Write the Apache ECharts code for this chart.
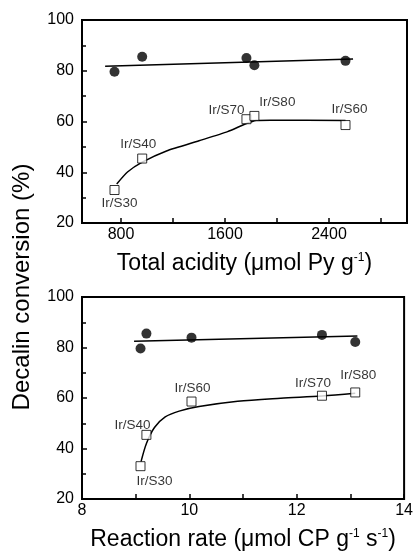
<!DOCTYPE html>
<html>
<head>
<meta charset="utf-8">
<script src="https://cdn.jsdelivr.net/npm/echarts@6/dist/echarts.min.js"></script>
<style>
html,body{margin:0;padding:0;background:#fff;}
#chart{width:416px;height:554px;}
</style>
</head>
<body>
<div id="chart"></div>
<script>
// ---- data ----
const samples = ['Ir/S30', 'Ir/S40', 'Ir/S60', 'Ir/S70', 'Ir/S80'];
const totalAcidity = [750, 963, 2527, 1765, 1826];
const reactionRate = [9.09, 9.20, 10.04, 12.47, 13.09];
const conversionFilled = [79.6, 85.5, 83.9, 85.0, 82.2];
const conversionOpen = [33.0, 45.4, 58.6, 60.9, 62.2];

const acidityFitX = [678, 2585];
const acidityFitY = [81.8, 84.6];
const acidityCurveX = [767, 850, 960, 1150, 1400, 1620, 1760, 1840, 1950, 2527];
const acidityCurveY = [35.4, 40.1, 43.9, 48.4, 52.4, 56.0, 59.1, 60.4, 60.5, 60.4];

const rateFitX = [8.97, 13.13];
const rateFitY = [82.5, 84.6];
const rateCurveX = [9.10, 9.20, 9.35, 9.55, 9.81, 10.18, 10.90, 11.70, 12.47, 13.09];
const rateCurveY = [34.8, 42.0, 48.3, 52.5, 54.8, 56.6, 58.7, 59.9, 60.8, 61.9];

const acidityLabelTicks = [800, 1600, 2400];
const acidityMinorTicks = [800, 1200, 1600, 2000, 2400, 2800];

// ---- styles (label offsets in px, not data) ----
const topLabelOffset = {'Ir/S30': [5, 13], 'Ir/S40': [-4, -14], 'Ir/S70': [-20, -9], 'Ir/S80': [23, -14], 'Ir/S60': [4, -16]};
const botLabelOffset = {'Ir/S30': [14, 15], 'Ir/S40': [-14, -10], 'Ir/S60': [1, -13], 'Ir/S70': [-9, -12], 'Ir/S80': [3, -17]};

const FONT = 'Liberation Sans, Arial, sans-serif';
const zip = (a, b) => a.map((v, i) => [v, b[i]]);

function openData(xs, offsets) {
  return samples.map((s, i) => ({
    name: s,
    value: [xs[i], conversionOpen[i]],
    label: {show: true, formatter: s, position: 'inside', offset: offsets[s],
            color: '#000', fontSize: 13.5, fontFamily: FONT, align: 'center', verticalAlign: 'middle'}
  }));
}

const chart = echarts.init(document.getElementById('chart'), null, {renderer: 'canvas'});

const yAxisCommon = {
  type: 'value', min: 20, max: 100, interval: 20,
  axisLine: {show: true, lineStyle: {color: '#000', width: 2}},
  axisTick: {show: true, inside: true, length: 5, lineStyle: {color: '#000', width: 1.5}},
  minorTick: {show: true, splitNumber: 2, length: 4, lineStyle: {color: '#000', width: 1.5}},
  axisLabel: {color: '#000', fontSize: 16, fontFamily: FONT, margin: 8},
  splitLine: {show: false}
};

const nameStyle = {
  color: '#000', fontSize: 23, fontFamily: FONT,
  rich: {
    t: {fontSize: 23, fontFamily: FONT, color: '#000'},
    sup: {fontSize: 12, fontFamily: FONT, color: '#000', verticalAlign: 'top'}
  }
};

chart.setOption({
  animation: false,
  backgroundColor: '#fff',
  grid: [
    {left: 82, top: 20, width: 325, height: 203, show: true, borderColor: '#000', borderWidth: 2, backgroundColor: 'transparent'},
    {left: 82, top: 297, width: 325, height: 202, show: true, borderColor: '#000', borderWidth: 2, backgroundColor: 'transparent'}
  ],
  xAxis: [
    {
      gridIndex: 0, type: 'value', min: 500, max: 3000,
      axisLine: {show: true, lineStyle: {color: '#000', width: 2}},
      axisTick: {show: true, inside: true, length: 5, customValues: acidityMinorTicks, lineStyle: {color: '#000', width: 1.5}},
      axisLabel: {color: '#000', fontSize: 16, fontFamily: FONT, margin: 4, customValues: acidityLabelTicks,
                  formatter: v => String(v)},
      splitLine: {show: false},
      name: '{t|Total acidity (μmol Py g}{sup|-1}{t|)}',
      nameLocation: 'middle', nameGap: 29,
      nameTextStyle: nameStyle
    },
    {
      gridIndex: 1, type: 'value', min: 8, max: 14, interval: 2,
      axisLine: {show: true, lineStyle: {color: '#000', width: 2}},
      axisTick: {show: true, inside: true, length: 5, lineStyle: {color: '#000', width: 1.5}},
      minorTick: {show: true, splitNumber: 2, length: 5, lineStyle: {color: '#000', width: 1.5}},
      axisLabel: {color: '#000', fontSize: 16, fontFamily: FONT, margin: 4, formatter: v => String(v)},
      splitLine: {show: false},
      name: '{t|Reaction rate (μmol CP g}{sup|-1}{t| s}{sup|-1}{t|)}',
      nameLocation: 'middle', nameGap: 29,
      nameTextStyle: nameStyle
    }
  ],
  yAxis: [
    Object.assign({gridIndex: 0}, yAxisCommon),
    Object.assign({gridIndex: 1}, yAxisCommon)
  ],
  graphic: [{
    type: 'text', rotation: Math.PI / 2,
    x: 22, y: 287,
    style: {text: 'Decalin conversion (%)', fill: '#000', font: '24px ' + FONT, align: 'center', verticalAlign: 'middle'}
  }],
  series: [
    {type: 'line', xAxisIndex: 0, yAxisIndex: 0, data: zip(acidityFitX, acidityFitY), symbol: 'none',
     lineStyle: {color: '#000', width: 1.5}, z: 2},
    {type: 'line', xAxisIndex: 0, yAxisIndex: 0, data: zip(acidityCurveX, acidityCurveY), symbol: 'none',
     smooth: 0.2, lineStyle: {color: '#000', width: 1.5}, z: 2},
    {type: 'scatter', xAxisIndex: 0, yAxisIndex: 0, data: zip(totalAcidity, conversionFilled), symbol: 'circle', symbolSize: 10,
     itemStyle: {color: '#000'}, z: 3},
    {type: 'scatter', xAxisIndex: 0, yAxisIndex: 0, data: openData(totalAcidity, topLabelOffset), symbol: 'rect', symbolSize: 9,
     itemStyle: {color: '#fff', borderColor: '#000', borderWidth: 1}, z: 4},

    {type: 'line', xAxisIndex: 1, yAxisIndex: 1, data: zip(rateFitX, rateFitY), symbol: 'none',
     lineStyle: {color: '#000', width: 1.5}, z: 2},
    {type: 'line', xAxisIndex: 1, yAxisIndex: 1, data: zip(rateCurveX, rateCurveY), symbol: 'none',
     smooth: 0.3, lineStyle: {color: '#000', width: 1.5}, z: 2},
    {type: 'scatter', xAxisIndex: 1, yAxisIndex: 1, data: zip(reactionRate, conversionFilled), symbol: 'circle', symbolSize: 10,
     itemStyle: {color: '#000'}, z: 3},
    {type: 'scatter', xAxisIndex: 1, yAxisIndex: 1, data: openData(reactionRate, botLabelOffset), symbol: 'rect', symbolSize: 9,
     itemStyle: {color: '#fff', borderColor: '#000', borderWidth: 1}, z: 4}
  ]
});
</script>
</body>
</html>
